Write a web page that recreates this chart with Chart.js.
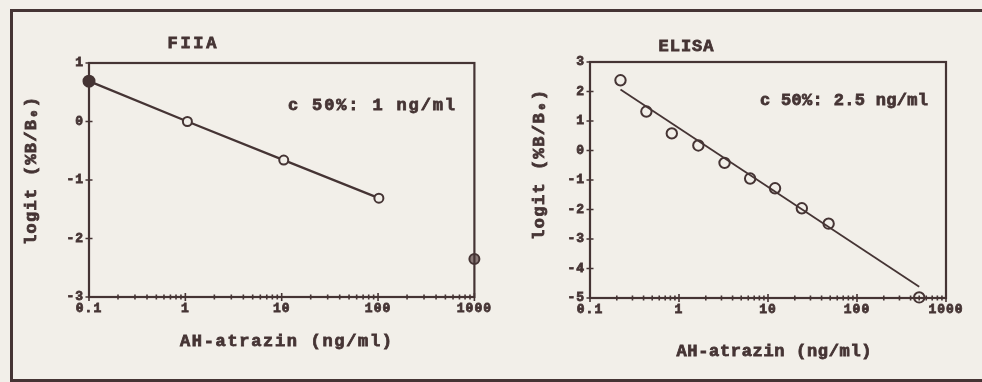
<!DOCTYPE html>
<html><head><meta charset="utf-8">
<script src="https://cdn.jsdelivr.net/npm/chart.js@4.4.0/dist/chart.umd.min.js"></script>
<style>
html,body{margin:0;padding:0;background:#f2efe9;width:982px;height:382px;overflow:hidden;}
#frame{position:absolute;left:10px;top:9px;width:990px;height:367px;border:3px solid #453434;border-right:none;}
canvas{position:absolute;}
#c1{left:14px;top:20px;}
#c2{left:510px;top:20px;}
</style></head><body>
<div id="frame"></div>
<canvas id="c1" width="480" height="356"></canvas>
<canvas id="c2" width="470" height="356"></canvas>
<script>
// ---- data ----
// FIIA
const fiiaConc = [0.1, 1.05, 10.5, 102];
const fiiaLogit = [0.69, 0.0, -0.66, -1.31];
const fiiaExtraConc = [1000];
const fiiaExtraLogit = [-2.35];
// ELISA
const elisaConc = [0.22, 0.43, 0.83, 1.65, 3.25, 6.3, 12, 24, 48, 500];
const elisaLogit = [2.38, 1.32, 0.58, 0.17, -0.42, -0.95, -1.28, -1.96, -2.48, -4.98];
const elisaFitConc = [0.22, 500];
const elisaFitLogit = [2.07, -4.62];
// ticks
const xMajorTicks = [0.1, 1, 10, 100, 1000];
const xMinorMultipliers = [2, 3, 4, 5, 6, 7, 8, 9];
const fiiaYTicks = [-3, -2, -1, 0, 1];
const elisaYTicks = [-5, -4, -3, -2, -1, 0, 1, 2, 3];
// texts
const fiiaTitle = 'FIIA';
const elisaTitle = 'ELISA';
const fiiaNote = 'c 50%: 1 ng/ml';
const elisaNote = 'c 50%: 2.5 ng/ml';
const xTitle = 'AH-atrazin (ng/ml)';
const yTitle = 'logit (%B/B₀)';

const INK = '#453434';
const PAPER = '#f2efe9';
const FAMILY = "'Liberation Mono','DejaVu Sans Mono',monospace";

Chart.defaults.font.family = FAMILY;
Chart.defaults.font.weight = 'bold';
Chart.defaults.color = INK;

const xTickValues = [];
xMajorTicks.forEach((m, i) => {
  xTickValues.push(m);
  if (i < xMajorTicks.length - 1) xMinorMultipliers.forEach(k => xTickValues.push(m * k));
});

function pts(xs, ys) { return xs.map((x, i) => ({x, y: ys[i]})); }

function spacedText(ctx, text, x, y, size, width, align, rot) {
  ctx.save();
  ctx.font = 'bold ' + size + 'px ' + FAMILY;
  ctx.fillStyle = INK;
  ctx.strokeStyle = INK;
  ctx.lineWidth = 0.8;
  ctx.letterSpacing = '0px';
  const w0 = ctx.measureText(text).width;
  const ls = (width - w0) / Math.max(1, text.length - 1);
  ctx.letterSpacing = ls + 'px';
  ctx.textBaseline = 'middle';
  ctx.textAlign = 'left';
  ctx.translate(x, y);
  if (rot) ctx.rotate(rot);
  const sx = align === 'center' ? -width / 2 : 0;
  ctx.fillText(text, sx, 0);
  ctx.strokeText(text, sx, 0);
  ctx.restore();
}

const decor = {
  id: 'decor',
  beforeDraw(chart) { chart.ctx.letterSpacing = '1px'; },
  afterDraw(chart, args, opts) {
    const {ctx, chartArea: a, scales} = chart;
    ctx.save();
    ctx.strokeStyle = INK;
    ctx.lineWidth = 2.2;
    ctx.strokeRect(a.left, a.top, a.right - a.left, a.bottom - a.top);
    ctx.lineWidth = 1.6;
    ctx.beginPath();
    scales.x.ticks.forEach(t => {
      const px = scales.x.getPixelForValue(t.value);
      const L = xMajorTicks.includes(t.value) ? 4 : 2.5;
      ctx.moveTo(px, a.bottom - L); ctx.lineTo(px, a.bottom + L);
    });
    scales.y.ticks.forEach(t => {
      const py = scales.y.getPixelForValue(t.value);
      ctx.moveTo(a.left - 3.5, py); ctx.lineTo(a.left + 3.5, py);
    });
    ctx.stroke();
    ctx.restore();
    (opts.texts || []).forEach(t => spacedText(ctx, t.text, t.x, t.y, t.size, t.width, t.align, t.rot));
  }
};

function makeChart(id, cfg) {
  return new Chart(document.getElementById(id), {
    type: 'scatter',
    data: {datasets: cfg.datasets},
    options: {
      responsive: false, animation: false, devicePixelRatio: 1,
      layout: {padding: {top: cfg.padTop, right: cfg.padRight, left: 0, bottom: 0}},
      plugins: {legend: {display: false}, tooltip: {enabled: false}, decor: {texts: cfg.texts}},
      scales: {
        x: {
          type: 'logarithmic', min: xMajorTicks[0], max: xMajorTicks[xMajorTicks.length - 1],
          afterBuildTicks: s => { s.ticks = xTickValues.map(v => ({value: v})); },
          afterFit: s => { s.height = cfg.xAxisH; },
          grid: {display: false, drawTicks: false}, border: {display: false},
          ticks: {autoSkip: false, maxRotation: 0, padding: 4, color: INK,
            textStrokeColor: INK, textStrokeWidth: 0.8,
            font: {size: 13, weight: 'bold'},
            callback: v => xMajorTicks.includes(v) ? String(v) : ''},
          title: {display: false, text: xTitle}
        },
        y: {
          type: 'linear', min: cfg.yTicks[0], max: cfg.yTicks[cfg.yTicks.length - 1],
          afterFit: s => { s.width = cfg.yAxisW; },
          grid: {display: false, drawTicks: false}, border: {display: false},
          ticks: {stepSize: 1, padding: 5, color: INK, textStrokeColor: INK, textStrokeWidth: 0.8,
            font: {size: 13, weight: 'bold'}},
          title: {display: false, text: yTitle}
        }
      }
    },
    plugins: [decor]
  });
}

makeChart('c1', {
  padTop: 43, padRight: 19, yAxisW: 75, xAxisH: 79, yTicks: fiiaYTicks,
  datasets: [
    {data: pts(fiiaConc, fiiaLogit), showLine: true, borderColor: INK, borderWidth: 2.2, tension: 0,
     pointRadius: c => c.dataIndex === 0 ? 5.5 : 4.5, pointBorderWidth: 2, pointBorderColor: INK,
     pointBackgroundColor: c => c.dataIndex === 0 ? INK : PAPER, clip: false},
    {data: pts(fiiaExtraConc, fiiaExtraLogit), showLine: false, pointRadius: 5, pointBorderWidth: 2,
     pointBorderColor: INK, pointBackgroundColor: '#8a7a78', clip: false}
  ],
  texts: [
    {text: fiiaTitle, x: 178, y: 24, size: 17, width: 49, align: 'center'},
    {text: fiiaNote, x: 274, y: 86, size: 17, width: 167, align: 'left'},
    {text: yTitle, x: 18, y: 151, size: 17, width: 148, align: 'center', rot: -Math.PI / 2},
    {text: xTitle, x: 272, y: 322, size: 17, width: 212, align: 'center'}
  ]
});

makeChart('c2', {
  padTop: 42, padRight: 34, yAxisW: 80, xAxisH: 78, yTicks: elisaYTicks,
  datasets: [
    {data: pts(elisaFitConc, elisaFitLogit), showLine: true, borderColor: INK, borderWidth: 1.8,
     pointRadius: 0, tension: 0, clip: false},
    {data: pts(elisaConc, elisaLogit), showLine: false, pointRadius: 5.2, pointBorderWidth: 2,
     pointBorderColor: INK, pointBackgroundColor: 'rgba(0,0,0,0)', clip: false}
  ],
  texts: [
    {text: elisaTitle, x: 176, y: 27, size: 17, width: 55, align: 'center'},
    {text: elisaNote, x: 250, y: 81, size: 17, width: 168, align: 'left'},
    {text: yTitle, x: 30, y: 145, size: 17, width: 150, align: 'center', rot: -Math.PI / 2},
    {text: xTitle, x: 264, y: 332, size: 17, width: 195, align: 'center'}
  ]
});
</script>
</body></html>
